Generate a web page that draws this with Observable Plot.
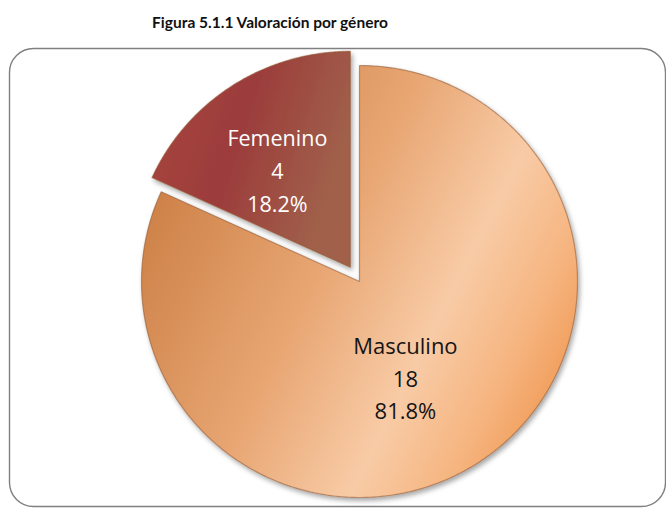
<!DOCTYPE html>
<html><head><meta charset="utf-8">
<script src="https://cdn.jsdelivr.net/npm/d3@7"></script>
<script src="https://cdn.jsdelivr.net/npm/@observablehq/plot@0.6"></script>
<style>
html,body{margin:0;padding:0;background:#fff}
body{width:666px;height:508px;overflow:hidden;position:relative}
#title{position:absolute;left:0;top:13px;width:540px;text-align:center;font:bold 15.5px Lato,"Open Sans",sans-serif;color:#111}
#chart{position:absolute;left:0;top:30px}
</style></head><body>
<div id="title">Figura 5.1.1 Valoración por género</div>
<div id="chart"></div>
<script>
// ---- data ----
const categories = ["Masculino", "Femenino"];
const counts = [18, 4];
const exploded = [0, 1];

// ---- layout ----
const W = 666, H = 478;
const cx = 359, cy = 251, rx = 218, ry = 216;
const explodeDist = 0.078;

const data = categories.map((name, i) => ({name, count: counts[i], explode: exploded[i]}));
const total = d3.sum(counts);
const fmtPct = d3.format(".1%");
const arcs = d3.pie().sort(null).value(d => d.count)(data);

const points = [];
const labels = [];
arcs.forEach(a => {
  const mid = (a.startAngle + a.endAngle) / 2;
  const off = a.data.explode ? explodeDist : 0;
  const ox = off * Math.sin(mid), oy = -off * Math.cos(mid);
  points.push({name: a.data.name, x: ox, y: oy});
  const n = Math.ceil((a.endAngle - a.startAngle) / (Math.PI / 360));
  for (let k = 0; k <= n; k++) {
    const t = a.startAngle + (a.endAngle - a.startAngle) * k / n;
    points.push({name: a.data.name, x: ox + Math.sin(t), y: oy - Math.cos(t)});
  }
  labels.push({
    name: a.data.name,
    x: ox + 0.5 * Math.sin(mid),
    y: oy - 0.5 * Math.cos(mid),
    text: `${a.data.name}\n${a.data.count}\n${fmtPct(a.data.count / total)}`
  });
});

const plot = Plot.plot({
  width: W, height: H,
  marginLeft: 9, marginRight: 1, marginTop: 18, marginBottom: 2,
  x: {domain: [-1, 1], range: [cx - rx, cx + rx], axis: null},
  y: {domain: [-1, 1], range: [cy - ry, cy + ry], axis: null},
  color: {type: "ordinal", domain: categories, range: ["url(#gradM)", "url(#gradF)"]},
  style: {background: "transparent", overflow: "visible"},
  marks: [
    Plot.frame({rx: 24, ry: 24, stroke: "#808080", strokeWidth: 1.4}),
    Plot.line(points, {x: "x", y: "y", z: "name", fill: "name", stroke: "#8f5530", strokeOpacity: 0.55, strokeWidth: 1.2, curve: "linear-closed"}),
    Plot.text(labels.filter(d => d.name === "Masculino"), {x: "x", y: "y", text: "text", dx: -13, dy: 4, fill: "#141414", fontSize: 22, fontFamily: "Open Sans", lineHeight: 1.48, lineAnchor: "middle", textAnchor: "middle"}),
    Plot.text(labels.filter(d => d.name === "Femenino"), {x: "x", y: "y", text: "text", dx: -14, dy: -8, fill: "#ffffff", fontSize: 21.5, fontFamily: "Open Sans", lineHeight: 1.52, lineAnchor: "middle", textAnchor: "middle"})
  ]
});

const svg = d3.select(plot);
const defs = svg.insert("defs", ":first-child");
const gm = defs.append("linearGradient").attr("id", "gradM")
  .attr("x1", 0).attr("y1", 0.3).attr("x2", 1).attr("y2", 0.8);
[[0, "#cc7f45"], [0.4, "#e8a673"], [0.66, "#f8cba6"], [0.82, "#f6b682"], [1, "#ef944b"]]
  .forEach(([o, c]) => gm.append("stop").attr("offset", o).attr("stop-color", c));
const gf = defs.append("linearGradient").attr("id", "gradF")
  .attr("x1", 0).attr("y1", 0).attr("x2", 1).attr("y2", 0.35);
[[0, "#a9473f"], [0.5, "#9c3c3b"], [1, "#a0604a"]]
  .forEach(([o, c]) => gf.append("stop").attr("offset", o).attr("stop-color", c));
const f = defs.append("filter").attr("id", "shadow").attr("x", "-10%").attr("y", "-10%").attr("width", "130%").attr("height", "130%");
f.append("feDropShadow").attr("dx", 2).attr("dy", 3).attr("stdDeviation", 2.5).attr("flood-color", "#000").attr("flood-opacity", 0.35);
svg.select('g[aria-label="line"]').attr("filter", "url(#shadow)");

document.getElementById("chart").appendChild(plot);
</script>
</body></html>
